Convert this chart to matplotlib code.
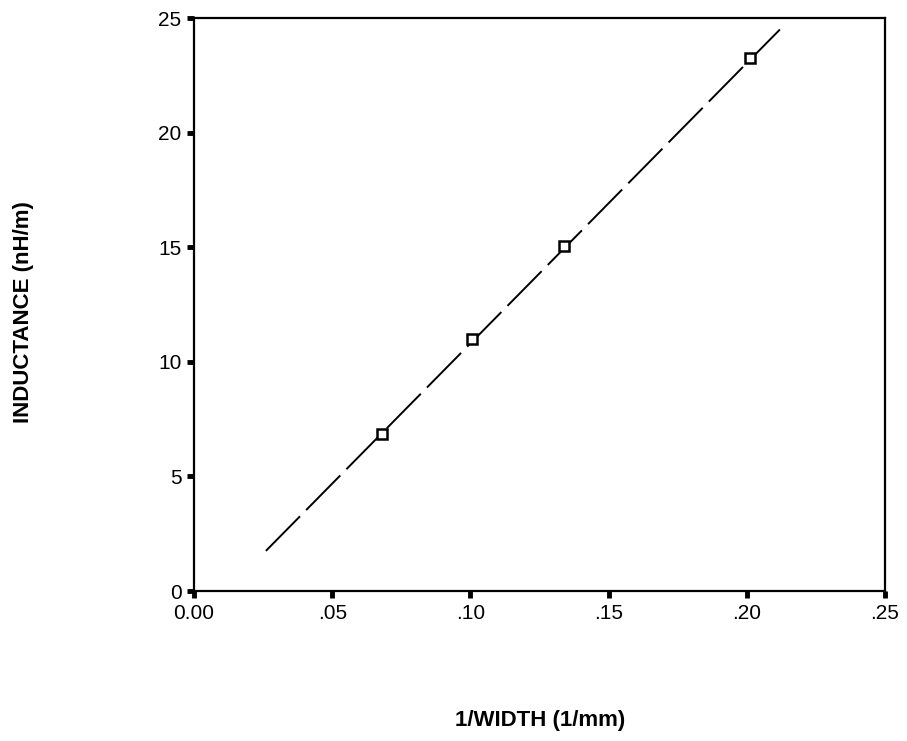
import matplotlib
matplotlib.use('Agg')
import matplotlib.pyplot as plt

plt.rcParams['font.family'] = ['Liberation Sans', 'DejaVu Sans']

# measured points
inv_width = [0.068, 0.1005, 0.134, 0.201]
inductance = [6.85, 11.0, 15.05, 23.25]

# fitted line end points
fit_x = [0.026, 0.212]
fit_y = [1.75, 24.5]

xticks = [0.00, 0.05, 0.10, 0.15, 0.20, 0.25]
xtick_labels = ['0.00', '.05', '.10', '.15', '.20', '.25']
yticks = [0, 5, 10, 15, 20, 25]

fig = plt.figure(figsize=(9.07, 7.41), dpi=100)
ax = fig.add_axes([0.2139, 0.2024, 0.7618, 0.7733])

ax.plot(fit_x, fit_y, color='black', lw=1.4, dashes=(25, 4.5))
ax.plot(inv_width, inductance, ls='none', marker='s', ms=7, mfc='white',
        mec='black', mew=1.8)

ax.set_xlim(0, 0.25)
ax.set_ylim(0, 25)
ax.set_xticks(xticks)
ax.set_xticklabels(xtick_labels)
ax.set_yticks(yticks)
ax.tick_params(direction='out', length=5, width=3.5, labelsize=15, pad=4)
for s in ax.spines.values():
    s.set_linewidth(1.6)

fig.text(0.026, 0.579, 'INDUCTANCE (nH/m)', rotation=90, ha='center', va='center',
         fontsize=16, fontweight='bold')
fig.text(0.595, 0.027, '1/WIDTH (1/mm)', ha='center', va='center',
         fontsize=16, fontweight='bold')

fig.savefig('out.png', dpi=100)
